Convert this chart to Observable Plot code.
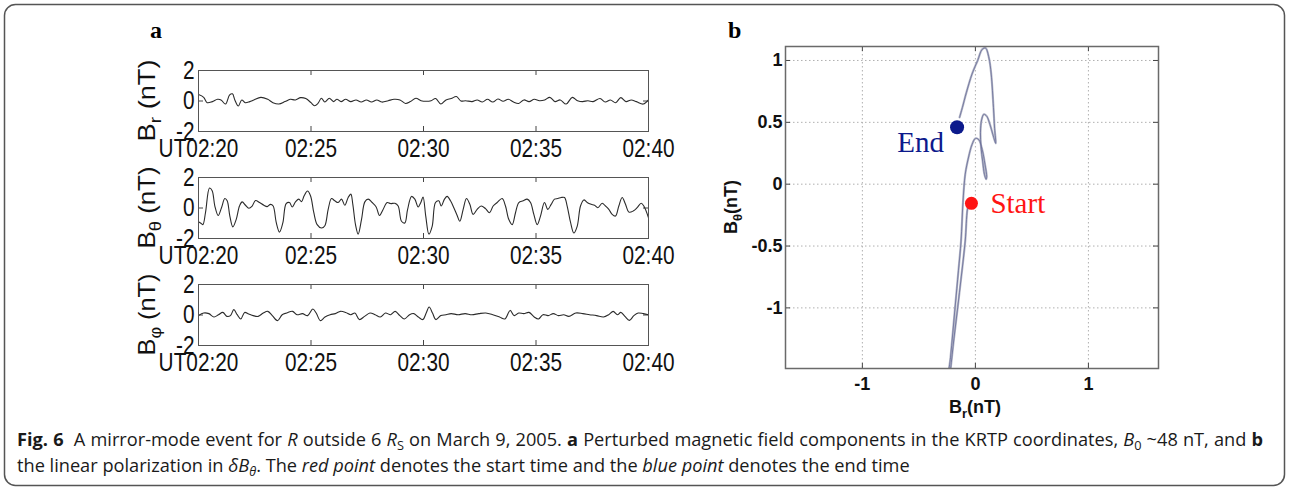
<!DOCTYPE html>
<html><head><meta charset="utf-8">
<script src="https://cdn.jsdelivr.net/npm/d3@7"></script>
<script src="https://cdn.jsdelivr.net/npm/@observablehq/plot@0.6"></script>
<style>
body{margin:0;background:#fff;}
#fig{position:relative;width:1290px;height:491px;overflow:hidden;background:#fff;}
.pn{position:absolute;}
.cap{position:absolute;left:17px;width:1246px;font-family:"Open Sans",sans-serif;font-size:18.2px;line-height:20px;color:#1a1a1a;white-space:nowrap;}
.cap sub{font-size:0.7em;vertical-align:-0.3em;line-height:0;}
#l1{text-align:justify;text-align-last:justify;white-space:normal;}
</style></head>
<body>
<div id="fig">
  <svg class="pn" id="over" width="1290" height="491" style="left:0;top:0">
    <rect x="4.5" y="4.5" width="1280" height="481" rx="11" ry="11" fill="none" stroke="#555" stroke-width="1.5"/>
    <text x="150" y="38" font-family="Liberation Serif, serif" font-weight="bold" font-size="24">a</text>
    <text x="728" y="38" font-family="Liberation Serif, serif" font-weight="bold" font-size="24">b</text>
  </svg>
  <div class="cap" id="l1" style="top:429px"><b>Fig. 6</b>&nbsp; A mirror-mode event for <i>R</i> outside 6 <i>R</i><sub>S</sub> on March 9, 2005. <b>a</b> Perturbed magnetic field components in the KRTP coordinates, <i>B</i><sub>0</sub> ~48 nT, and <b>b</b></div>
  <div class="cap" id="l2" style="top:455px">the linear polarization in <i>δB<sub>θ</sub></i>. The <i>red point</i> denotes the start time and the <i>blue point</i> denotes the end time</div>
</div>
<script>
// ---------- data ----------
const timeTicks = [0, 5, 10, 15, 20];
const timeTickLabels = ["UT02:20", "02:25", "02:30", "02:35", "02:40"];
const fieldTicks = [-2, 0, 2];

const brT = [0,0.231,0.385,0.615,0.846,1.0,1.2,1.385,1.508,1.615,1.769,1.923,2.077,2.277,2.462,2.769,3.077,3.308,3.569,3.846,4.077,4.308,4.538,4.769,5.0,5.154,5.308,5.462,5.615,5.815,6.0,6.154,6.338,6.538,6.769,7.0,7.231,7.462,7.692,7.923,8.154,8.431,8.692,8.954,9.2,9.415,9.662,9.892,10.123,10.338,10.538,10.769,11.0,11.231,11.462,11.662,11.877,12.154,12.385,12.615,12.846,13.077,13.308,13.538,13.769,14.0,14.231,14.462,14.692,14.923,15.154,15.385,15.615,15.846,16.077,16.338,16.615,16.846,17.077,17.308,17.538,17.846,18.077,18.308,18.538,18.769,19.0,19.231,19.462,19.769,20.0];
const brV = [0.42,0.24,-0.11,-0.04,0.11,0.07,-0.2,0.4,0.47,0.07,-0.33,0.07,-0.11,-0.04,0.07,0.24,0.11,-0.11,-0.2,-0.04,0.11,0.07,0.22,0.16,-0.11,-0.31,-0.16,0.18,-0.07,0.18,-0.04,0.11,-0.04,0.11,-0.04,0.07,-0.07,0.07,-0.07,0.07,-0.07,0.02,0.11,0.07,-0.16,-0.04,0.18,0.02,-0.02,0.02,0.16,-0.2,0.07,0.16,0.29,0.0,0.02,-0.04,0.07,-0.07,0.11,-0.07,0.13,-0.02,0.11,-0.07,-0.16,0.07,-0.04,0.11,0.02,0.07,0.24,-0.04,0.07,-0.2,0.24,0.02,-0.04,0.02,-0.04,0.16,-0.07,0.07,-0.11,0.22,-0.04,0.07,-0.04,-0.2,0.07];

const bthT = [0,0.089,0.193,0.311,0.489,0.607,0.726,0.874,1.022,1.17,1.274,1.393,1.526,1.674,1.822,1.941,2.089,2.237,2.385,2.533,2.711,2.904,3.052,3.2,3.319,3.452,3.6,3.748,3.896,4.044,4.163,4.311,4.459,4.578,4.696,4.844,4.978,5.126,5.274,5.467,5.615,5.763,5.911,6.059,6.207,6.356,6.504,6.652,6.77,6.859,6.978,7.096,7.244,7.393,7.541,7.719,7.896,8.044,8.193,8.385,8.533,8.726,8.874,9.022,9.17,9.289,9.467,9.615,9.763,9.881,9.98,10.1,10.24,10.385,10.533,10.681,10.785,10.933,11.052,11.2,11.348,11.496,11.615,11.763,11.911,12.059,12.207,12.385,12.563,12.756,12.933,13.096,13.274,13.496,13.644,13.793,13.941,14.089,14.237,14.43,14.607,14.756,14.904,15.052,15.2,15.378,15.526,15.674,15.822,15.97,16.119,16.267,16.385,16.533,16.681,16.83,16.978,17.126,17.274,17.452,17.6,17.748,17.941,18.089,18.237,18.385,18.533,18.681,18.83,18.978,19.126,19.319,19.496,19.674,19.793,20.0];
const bthV = [-0.9,-0.98,-1.09,-0.3,1.31,1.13,0.13,-0.49,0.02,0.62,0.47,-0.53,-1.24,-0.76,0.13,0.4,0.18,-0.02,0.13,0.49,0.36,0.18,0.09,0.24,0.13,-0.93,-1.58,-0.98,0.29,0.36,0.07,0.4,0.58,0.42,0.8,1.11,0.8,-0.31,-1.09,-1.31,-1.16,-0.09,0.62,0.47,0.36,0.58,0.18,0.69,0.91,0.24,-1.09,-1.71,-0.76,0.4,0.58,0.36,0.07,-0.49,-0.13,0.36,0.29,0.31,0.13,-0.87,-0.98,-0.13,0.76,0.58,0.07,0.36,0.72,-0.53,-1.71,-1.2,0.36,0.47,0.13,0.58,0.76,0.47,0.02,-0.49,-0.87,-0.09,0.62,0.24,-0.42,-0.09,0.13,-0.04,-0.31,0.13,0.36,0.62,0.13,-0.76,-1.09,-0.31,0.36,0.47,0.58,0.36,-0.42,-1.09,-0.53,0.36,-0.09,0.24,0.58,0.62,0.69,0.69,0.13,-0.93,-1.64,-1.2,0.13,0.53,0.36,0.24,0.18,0.02,0.31,0.13,-0.09,-0.42,-0.53,0.13,0.69,0.24,-0.27,-0.2,0.02,0.31,0.13,-0.64];

const bphT = [0,0.23,0.46,0.69,0.89,1.08,1.26,1.42,1.57,1.72,1.88,2.05,2.23,2.43,2.65,2.88,3.08,3.28,3.51,3.72,3.92,4.18,4.38,4.62,4.85,5.08,5.23,5.42,5.62,5.85,6.08,6.31,6.54,6.77,6.95,7.15,7.38,7.62,7.85,8.08,8.31,8.54,8.74,8.95,9.15,9.38,9.57,9.77,9.97,10.12,10.25,10.4,10.55,10.77,11.0,11.23,11.54,11.85,12.15,12.46,12.77,13.08,13.38,13.62,13.85,14.03,14.23,14.46,14.69,14.92,15.11,15.31,15.54,15.77,16.0,16.23,16.46,16.77,17.08,17.38,17.69,18.0,18.23,18.43,18.62,18.77,18.95,19.15,19.35,19.54,19.77,20.0];
const bphV = [-0.04,0.13,0.09,-0.13,0.02,0.17,-0.09,-0.04,0.35,0.02,-0.26,0.17,0.07,-0.04,-0.09,0.13,0.24,-0.04,-0.37,0.02,0.13,0.24,0.02,0.09,-0.04,0.39,0.13,-0.37,-0.13,0.02,0.09,0.24,0.17,0.02,0.13,-0.3,-0.09,0.13,0.02,-0.13,0.13,0.02,0.24,-0.04,-0.26,0.02,0.09,-0.13,-0.3,0.13,0.52,0.13,-0.3,-0.04,0.02,0.09,0.02,0.09,0.02,0.09,0.13,0.02,-0.13,-0.26,0.3,-0.04,0.13,0.09,0.17,-0.13,-0.26,0.02,-0.04,0.09,-0.04,0.02,-0.09,0.13,0.09,0.02,-0.04,-0.13,0.02,0.24,0.02,0.17,-0.09,-0.35,-0.04,0.13,0.09,0.02];

// hodogram (Br, Btheta) in nT, time ordered
const hodoX = [-0.05,-0.07,-0.09,-0.125,-0.157,-0.19,-0.22,-0.24,-0.25,-0.22,-0.18,-0.15,-0.127,-0.11,-0.09,-0.06,-0.03,0.0,0.03,0.06,0.085,0.10,0.095,0.08,0.065,0.05,0.045,0.055,0.075,0.10,0.13,0.155,0.18,0.17,0.16,0.14,0.12,0.09,0.06,0.02,-0.03,-0.08,-0.115,-0.14];
const hodoY = [-0.13,-0.2,-0.46,-0.75,-1.0,-1.25,-1.5,-1.65,-1.65,-1.4,-1.0,-0.7,-0.46,-0.15,0.08,0.22,0.32,0.37,0.36,0.28,0.16,0.06,0.04,0.08,0.18,0.3,0.42,0.52,0.565,0.55,0.48,0.4,0.33,0.45,0.62,0.89,1.02,1.1,1.09,1.0,0.89,0.74,0.62,0.54];
const startPoint = [{br: -0.035, bth: -0.155, label: "Start"}];
const endPoint = [{br: -0.162, bth: 0.46, label: "End"}];
const hodoXTicks = [-1, 0, 1];
const hodoYTicks = [-1, -0.5, 0, 0.5, 1];

// ---------- panel a ----------
const fig = document.getElementById("fig");
const labelMap = new Map(timeTicks.map((t, i) => [t, timeTickLabels[i]]));

function seriesPanel(tArr, vArr, sub, frameTop) {
  const data = tArr.map((t, i) => ({t, v: vArr[i]}));
  const fw = 450, fh = 61, mt = 14, mb = 32, ml = 98, mr = 32;
  const tlx = 5 / fw * 20, tly = 5 / fh * 4;
  const chart = Plot.plot({
    width: ml + fw + mr, height: mt + fh + mb,
    marginLeft: ml, marginRight: mr, marginTop: mt, marginBottom: mb,
    style: {fontFamily: "Liberation Sans, Arial, sans-serif", fontSize: "26px", color: "#111", background: "none", overflow: "visible"},
    x: {domain: [0, 20], ticks: timeTicks, tickFormat: d => labelMap.get(d), tickSize: 0, tickPadding: 7, label: null},
    y: {domain: [-2, 2], ticks: fieldTicks, tickFormat: d => String(d), tickSize: 0, tickPadding: 4, label: null},
    marks: [
      Plot.ruleX(timeTicks, {x: d => d, y1: -2, y2: -2 + tly, stroke: "#444"}),
      Plot.ruleX(timeTicks, {x: d => d, y1: 2, y2: 2 - tly, stroke: "#444"}),
      Plot.ruleY(fieldTicks, {y: d => d, x1: 0, x2: tlx, stroke: "#444"}),
      Plot.ruleY(fieldTicks, {y: d => d, x1: 20, x2: 20 - tlx, stroke: "#444"}),
      Plot.line(data, {x: "t", y: "v", curve: "catmull-rom", stroke: "#2b2b2b", strokeWidth: 1.1}),
      Plot.frame({stroke: "#555", strokeWidth: 1})
    ]
  });
  const div = document.createElement("div");
  div.className = "pn";
  div.style.left = "100px"; div.style.top = (frameTop - mt) + "px";
  div.style.width = (ml + fw + mr) + "px";
  div.appendChild(chart);
  fig.appendChild(div);
  chart.querySelectorAll("text").forEach(t => {
    const L = t.getComputedTextLength();
    if (L > 0) { t.setAttribute("textLength", (L * 0.8).toFixed(2)); t.setAttribute("lengthAdjust", "spacingAndGlyphs"); }
  });
  const svg = d3.select(chart);
  const lab = svg.append("text")
    .attr("transform", `translate(${ml - 43},${mt + fh / 2}) rotate(-90)`)
    .attr("text-anchor", "middle").attr("font-size", 24).attr("fill", "#111")
    .attr("font-family", "Liberation Sans, Arial, sans-serif");
  lab.append("tspan").text("B");
  lab.append("tspan").attr("dy", 6).attr("font-size", 17).text(sub);
  lab.append("tspan").attr("dy", -6).text(" (nT)");
  lab.attr("textLength", 82).attr("lengthAdjust", "spacingAndGlyphs");
}
seriesPanel(brT, brV, "r", 70);
seriesPanel(bthT, bthV, "θ", 177);
seriesPanel(bphT, bphV, "φ", 284);

// ---------- panel b ----------
(function () {
  const hodo = hodoX.map((x, i) => ({br: x, bth: hodoY[i]}));
  const xd = [-1.68, 1.62], yd = [-1.49, 1.113];
  const fw = 373, fh = 322, ml = 85, mr = 42, mt = 46, mb = 62;
  const tlx = 5 / fw * (xd[1] - xd[0]), tly = 5 / fh * (yd[1] - yd[0]);
  const chart = Plot.plot({
    width: ml + fw + mr, height: mt + fh + mb,
    marginLeft: ml, marginRight: mr, marginTop: mt, marginBottom: mb,
    style: {fontFamily: "Liberation Sans, Arial, sans-serif", fontSize: "18px", fontWeight: "bold", color: "#111", background: "none", overflow: "visible"},
    x: {domain: xd, ticks: hodoXTicks, tickFormat: d => String(d), tickSize: 0, tickPadding: 9, label: null},
    y: {domain: yd, ticks: hodoYTicks, tickFormat: d => String(d), tickSize: 0, tickPadding: 3, label: null},
    marks: [
      Plot.ruleX(hodoXTicks, {x: d => d, stroke: "#b0b0b0", strokeDasharray: "1.5,2.5"}),
      Plot.ruleY(hodoYTicks, {y: d => d, stroke: "#b0b0b0", strokeDasharray: "1.5,2.5"}),
      Plot.ruleX(hodoXTicks, {x: d => d, y1: yd[0], y2: yd[0] + tly, stroke: "#444"}),
      Plot.ruleX(hodoXTicks, {x: d => d, y1: yd[1], y2: yd[1] - tly, stroke: "#444"}),
      Plot.ruleY(hodoYTicks, {y: d => d, x1: xd[0], x2: xd[0] + tlx, stroke: "#444"}),
      Plot.ruleY(hodoYTicks, {y: d => d, x1: xd[1], x2: xd[1] - tlx, stroke: "#444"}),
      Plot.line(hodo, {x: "br", y: "bth", curve: "catmull-rom", stroke: "#b6b9c8", strokeWidth: 2.2, clip: true}),
      Plot.line(hodo, {x: "br", y: "bth", curve: "catmull-rom", stroke: "#5c6090", strokeWidth: 0.7, clip: true}),
      Plot.dot(endPoint, {x: "br", y: "bth", r: 7, fill: "#0c1a8c", stroke: "none"}),
      Plot.dot(startPoint, {x: "br", y: "bth", r: 6.5, fill: "#ff1414", stroke: "none"}),
      Plot.text(endPoint, {x: "br", y: "bth", text: "label", textAnchor: "end", dx: -13, dy: 15, fill: "#0c1a8c", fontSize: 29, fontWeight: "normal", fontFamily: "Liberation Serif, Times New Roman, serif"}),
      Plot.text(startPoint, {x: "br", y: "bth", text: "label", textAnchor: "start", dx: 19, dy: 0, fill: "#ff1414", fontSize: 29, fontWeight: "normal", fontFamily: "Liberation Serif, Times New Roman, serif"}),
      Plot.frame({stroke: "#6a6a6a", strokeWidth: 1.5})
    ]
  });
  const div = document.createElement("div");
  div.className = "pn";
  div.style.left = "700px"; div.style.top = "0px";
  div.style.width = (ml + fw + mr) + "px";
  div.appendChild(chart);
  fig.appendChild(div);
  const svg = d3.select(chart);
  const xl = svg.append("text").attr("x", 275).attr("y", 413).attr("text-anchor", "middle")
    .attr("font-size", 18).attr("font-weight", "bold").attr("fill", "#111");
  xl.append("tspan").text("B");
  xl.append("tspan").attr("dy", 5).attr("font-size", 13).text("r");
  xl.append("tspan").attr("dy", -5).text("(nT)");
  const yl = svg.append("text").attr("transform", "translate(37,207) rotate(-90)").attr("text-anchor", "middle")
    .attr("font-size", 18).attr("font-weight", "bold").attr("fill", "#111");
  yl.append("tspan").text("B");
  yl.append("tspan").attr("dy", 5).attr("font-size", 13).text("θ");
  yl.append("tspan").attr("dy", -5).text("(nT)");
})();
</script>
</body></html>
